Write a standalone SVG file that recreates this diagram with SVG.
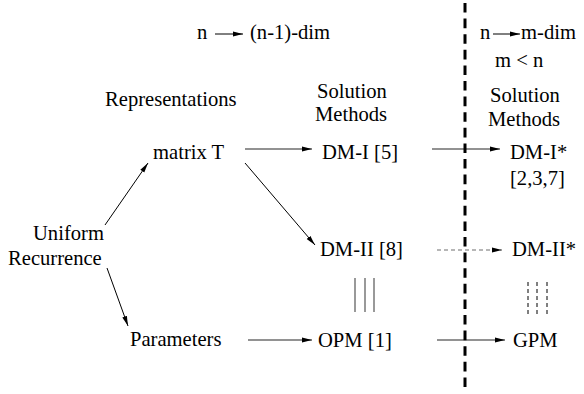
<svg xmlns="http://www.w3.org/2000/svg" width="584" height="394" viewBox="0 0 584 394">
<style>
text{font-family:"Liberation Serif","Times New Roman",serif;font-size:20.6px;fill:#000}
.g{stroke:#6e6e6e;stroke-width:1.3;fill:none}
.k{stroke:#000;stroke-width:1;fill:none}
.d{stroke:#6e6e6e;stroke-width:1.2;fill:none;stroke-dasharray:4 3}
</style>
<defs>
<marker id="ah" markerUnits="userSpaceOnUse" markerWidth="10" markerHeight="6" refX="10" refY="3" orient="auto">
<path d="M0,0.6 L10,3 L0,5.4 z" fill="#000"/>
</marker>
</defs>
<rect width="584" height="394" fill="#fff"/>
<g id="headers">
<text x="197" y="39">n</text>
<text x="250" y="39">(n-1)-dim</text>
<text x="480" y="39">n</text>
<text x="521" y="39">m-dim</text>
<text x="495" y="67">m &lt; n</text>
<text x="105" y="106">Representations</text>
<text x="317" y="98">Solution</text>
<text x="315" y="121">Methods</text>
<text x="490" y="102">Solution</text>
<text x="488" y="126">Methods</text>
</g>
<g id="node-uniform"><text x="33" y="240">Uniform</text><text x="8" y="265">Recurrence</text></g>
<g id="node-matrix"><text x="153" y="159">matrix T</text></g>
<g id="node-params"><text x="130" y="346">Parameters</text></g>
<g id="node-dm1"><text x="322" y="159">DM-I [5]</text></g>
<g id="node-dm2"><text x="320" y="256">DM-II [8]</text></g>
<g id="node-opm"><text x="318" y="347">OPM [1]</text></g>
<g id="node-dm1s"><text x="510" y="159">DM-I*</text><text x="510" y="185">[2,3,7]</text></g>
<g id="node-dm2s"><text x="512" y="256">DM-II*</text></g>
<g id="node-gpm"><text x="513" y="347">GPM</text></g>
<g id="connectors">
<line class="k" x1="215" y1="34" x2="243" y2="34" marker-end="url(#ah)"/>
<line class="k" x1="493" y1="34" x2="520" y2="34" marker-end="url(#ah)"/>
<line class="k" x1="105" y1="225" x2="148" y2="163" marker-end="url(#ah)"/>
<line class="k" x1="107" y1="268" x2="128" y2="326" marker-end="url(#ah)"/>
<line class="k" x1="245" y1="163" x2="315" y2="245" marker-end="url(#ah)"/>
<line class="g" x1="245" y1="149" x2="312" y2="149" marker-end="url(#ah)"/>
<line class="g" x1="432" y1="149" x2="500" y2="149" marker-end="url(#ah)"/>
<line class="d" x1="437" y1="250" x2="502" y2="250" marker-end="url(#ah)"/>
<line class="g" x1="248" y1="340" x2="312" y2="340" marker-end="url(#ah)"/>
<line class="g" x1="437" y1="340" x2="505" y2="340" marker-end="url(#ah)"/>
<g stroke="#555" stroke-width="1.2">
<line x1="355" y1="278" x2="355" y2="312"/>
<line x1="365" y1="278" x2="365" y2="312"/>
<line x1="374" y1="278" x2="374" y2="312"/>
</g>
<g stroke="#000" stroke-width="1" stroke-dasharray="4 3">
<line x1="528" y1="282" x2="528" y2="317"/>
<line x1="537" y1="282" x2="537" y2="317"/>
<line x1="547" y1="282" x2="547" y2="317"/>
</g>
<line x1="465" y1="3" x2="465" y2="390" stroke="#000" stroke-width="3" stroke-dasharray="9.6 6"/>
</g>
</svg>
